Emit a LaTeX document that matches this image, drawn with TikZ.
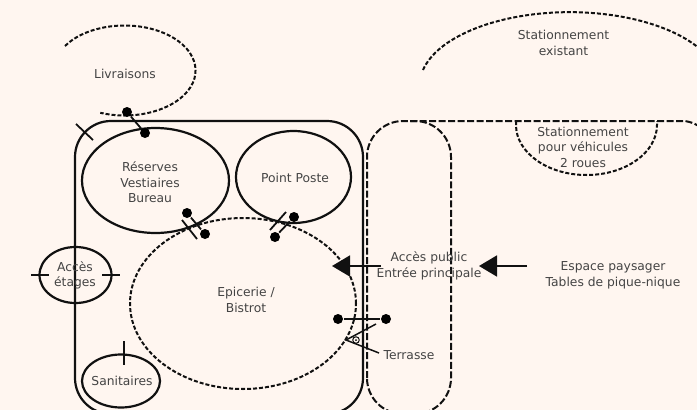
\documentclass[tikz,border=0pt]{standalone}
\usepackage{fontspec}
\setmainfont{DejaVu Sans}
\usepackage{tikz}
\usetikzlibrary{shapes.geometric}
\usetikzlibrary{arrows.meta,calc}
\usepackage[dvipsnames]{xcolor}
\definecolor{paper}{HTML}{FFF6F0}
\definecolor{ink}{HTML}{111111}
\definecolor{label}{HTML}{444444}

\begin{document}
\begin{tikzpicture}[x=1pt,y=-1pt,
            line width=2.2pt,
            draw=ink,
            label/.style = {text=label, font=\fontsize{12.3}{15.5}\selectfont, align=center, inner sep=0pt},
            room/.style = {draw, ellipse, inner sep=0pt, label},
            dashline/.style = {dash pattern=on 4pt off 2pt, line width=2pt},
            longdash/.style = {dash pattern=on 7pt off 2.5pt, line width=2pt},
            dot/.style = {circle, fill=black, draw=none, minimum size=10pt, inner sep=0pt},
            tick/.style = {line width=1.8pt},
            bigarrow/.style = {-{Triangle[length=18pt,width=21pt]}, line width=1.8pt}
            ]
            \fill[paper] (0,0) rectangle (697,410);
            \useasboundingbox (0,0) rectangle (697,410);
            \clip (0,0) rectangle (697,410);

            % outer shapes
            \draw[rounded corners=36pt] (75,414) -- (75,121) -- (363,121) -- (363,414) -- cycle;
            \draw[longdash, rounded corners=36pt] (367,414) -- (367,121) -- (451,121) -- (451,414) -- cycle;
            \draw[longdash, rounded corners=14pt] (410,121) -- (697,121) -- (708,135);

            % open zones
            \draw[dashline] (65,46) arc[start angle=147, end angle=-110, x radius=71, y radius=-45];
            \draw[dashline] (423,70) arc[start angle=168, end angle=25, x radius=150, y radius=-73];
            \draw[dashline] (516,121) -- (516,125) arc[start angle=180, end angle=360, x radius=70.5, y radius=-50] -- (657,121);

            % rooms
            \node[room, minimum width=147pt, minimum height=105pt] (reserves) at (155.5,180.5) {};
            \node[room, minimum width=115pt, minimum height=92pt] (poste) at (293.5,177) {};
            \node[room, dashline, minimum width=226pt, minimum height=171pt] (epicerie) at (243,303.5) {};
            \node[room, minimum width=72pt, minimum height=56pt] (etages) at (75.5,275) {};
            \node[room, minimum width=78pt, minimum height=53pt] (sanitaires) at (121,381) {};

            % doors
            \node[dot] (d1a) at (127,112) {};
            \node[dot] (d1b) at (145,133) {};
            \node[dot] (d2a) at (187,213) {};
            \node[dot] (d2b) at (205,234) {};
            \node[dot] (d3a) at (294,217) {};
            \node[dot] (d3b) at (275,237) {};
            \node[dot] (d4a) at (338,319) {};
            \node[dot] (d4b) at (386,319) {};
            \foreach \a/\b in {d1a/d1b,d2a/d2b,d3a/d3b,d4a/d4b}
                \draw[tick] (\a) -- (\b);

            % ticks
            \coordinate (t1a) at (76,124);
            \coordinate (t1b) at (93,140);
            \coordinate (t2a) at (182,220);
            \coordinate (t2b) at (197,239);
            \coordinate (t3a) at (270,230);
            \coordinate (t3b) at (286,212);
            \coordinate (t4a) at (31,275);
            \coordinate (t4b) at (49,275);
            \coordinate (t5a) at (102,275);
            \coordinate (t5b) at (120,275);
            \coordinate (t6a) at (124,341);
            \coordinate (t6b) at (124,365);
            \foreach \i in {1,...,6}
                \draw[tick] (t\i a) -- (t\i b);

            % entrance arrows
            \coordinate (a1a) at (381,266);
            \coordinate (a1b) at (332,266);
            \coordinate (a2a) at (527,266);
            \coordinate (a2b) at (479,266);
            \draw[bigarrow] (a1a) -- (a1b);
            \draw[bigarrow] (a2a) -- (a2b);

            % terrace eye
            \coordinate (e1) at (376,324);
            \coordinate (e2) at (346,340);
            \coordinate (e3) at (379,353);
            \draw[line width=1.5pt] (e1) -- (e2) -- (e3);
            \node[circle, draw, line width=1pt, minimum size=6.5pt, inner sep=0pt] (eye) at (356,340) {};
            \node[circle, fill=black, minimum size=2pt, inner sep=0pt] (pupil) at (eye) {};

            % labels
            \node[label] (livraisons) at (125,74) {Livraisons};
            \node[label] (treserves) at (150,182.5) {Réserves\\Vestiaires\\Bureau};
            \node[label] (tposte) at (295,178) {Point Poste};
            \node[label] (tetages) at (75,275.5) {Accès\\étages};
            \node[label] (tsanitaires) at (122,381) {Sanitaires};
            \node[label] (tepicerie) at (246,300) {Epicerie /\\Bistrot};
            \node[label] (acces) at (429,266) {Accès public\\Entrée principale};
            \node[label] (terrasse) at (409,355) {Terrasse};
            \node[label] (espace) at (613,275.5) {Espace paysager\\Tables de pique-nique};
            \node[label] (existant) at (563.5,43) {Stationnement\\existant};
            \node[label] (roues) at (583,147) {Stationnement\\pour véhicules\\2 roues};
        \end{tikzpicture}
\end{document}
